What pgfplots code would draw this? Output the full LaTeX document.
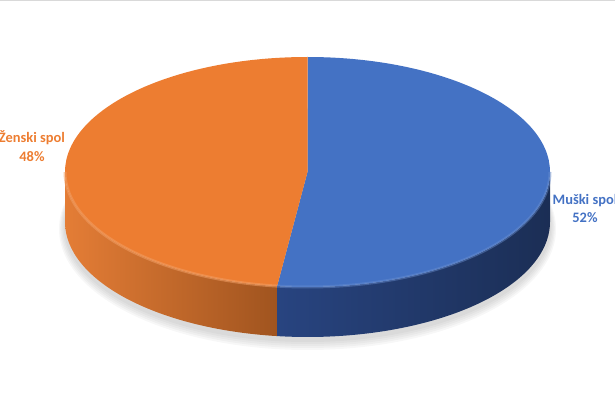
\documentclass[border=0pt]{standalone}
\usepackage{pgfplots}
\pgfplotsset{compat=1.18}
\usepackage{fontspec}
\setmainfont{Carlito}
\definecolor{blueTop}{HTML}{4472C4}
\definecolor{orangeTop}{HTML}{ED7D31}
\definecolor{orangeSideL}{HTML}{E47D36}
\definecolor{orangeSideR}{HTML}{A0541F}
\definecolor{blueSideL}{HTML}{284480}
\definecolor{blueSideR}{HTML}{1B2E55}
\definecolor{labelBlue}{HTML}{4472C4}
\definecolor{labelOrange}{HTML}{ED7D31}
% data: share in percent
\def\vMuski{52}
\def\vZenski{48}
\pgfmathsetmacro{\fracM}{\vMuski/(\vMuski+\vZenski)}
\pgfmathsetmacro{\splitang}{90-360*\fracM}
\pgfmathsetmacro{\splitangB}{360+\splitang}
\begin{document}
\begin{tikzpicture}
\useasboundingbox (0,0) rectangle (615bp,410bp);
\clip (0,0) rectangle (615bp,410bp);
\begin{axis}[hide axis, scale only axis, width=615bp, height=410bp,
  xmin=0, xmax=615, ymin=0, ymax=410, clip=false]
% soft shadow
\pgfplotsinvokeforeach{1,2,3,4,5}{
  \fill[black, opacity=0.03] (axis cs:307.5,{185-#1*0.8}) ellipse [x radius={(242.5+#1*1.2)*1bp}, y radius={(115+#1*1.2)*1bp}];
}
% sides
\shade[left color=orangeSideL, right color=orangeSideR]
  (axis cs:65,238) arc[start angle=180, end angle=\splitangB, x radius=242.5bp, y radius=115bp]
  -- ++(0pt,-50bp)
  arc[start angle=\splitangB, end angle=180, x radius=242.5bp, y radius=115bp] -- cycle;
\shade[left color=blueSideL, right color=blueSideR]
  (axis cs:550,238) arc[start angle=360, end angle=\splitangB, x radius=242.5bp, y radius=115bp]
  -- ++(0pt,-50bp)
  arc[start angle=\splitangB, end angle=360, x radius=242.5bp, y radius=115bp] -- cycle;
% top faces
\fill[blueTop] (axis cs:307.5,238) -- (axis cs:307.5,353)
  arc[start angle=90, end angle=\splitang, x radius=242.5bp, y radius=115bp] -- cycle;
\fill[orangeTop] (axis cs:307.5,238) -- (axis cs:307.5,353)
  arc[start angle=90, end angle=\splitangB, x radius=242.5bp, y radius=115bp] -- cycle;
% bevel highlight along front rim
\draw[orangeTop!75!white, line width=3bp, opacity=0.55]
  (axis cs:65,238) arc[start angle=180, end angle=\splitangB, x radius=242.5bp, y radius=115bp];
\draw[blueTop!80!white, line width=3bp, opacity=0.45]
  (axis cs:550,238) arc[start angle=360, end angle=\splitangB, x radius=242.5bp, y radius=115bp];
% labels
\node[font=\bfseries\fontsize{14.5}{18.5}\selectfont, text=labelOrange, align=center]
  at (axis cs:32,264) {Ženski spol\\48\%};
\node[font=\bfseries\fontsize{14.5}{18.5}\selectfont, text=labelBlue, align=center]
  at (axis cs:585,201.5) {Muški spol\\52\%};
% top border line
\draw[black!15, line width=3bp] (axis cs:0,410) -- (axis cs:615,410);
\end{axis}
\end{tikzpicture}
\end{document}
